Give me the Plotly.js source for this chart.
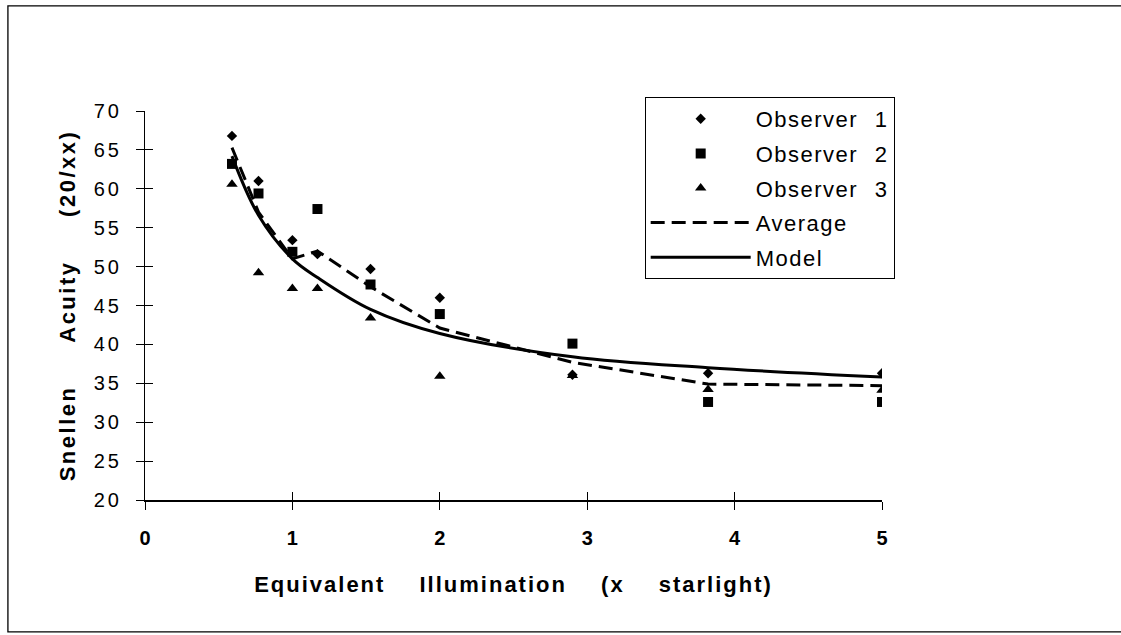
<!DOCTYPE html>
<html>
<head>
<meta charset="utf-8">
<script src="https://cdn.plot.ly/plotly-3.0.1.min.js"></script>
<style>
  html, body { margin: 0; padding: 0; background: #fff; }
  #chart { width: 1121px; height: 635px; }
  .ytick text { letter-spacing: 3px; }
  text.xtitle { word-spacing: 26px; letter-spacing: 2px; }
  text.ytitle { word-spacing: 35px; letter-spacing: 2.5px; }
  text.legendtext { word-spacing: 9px; letter-spacing: 1.5px; }
</style>
</head>
<body>
<div id="chart"></div>
<script>
// ---- data ----
const illumination = [0.59, 0.77, 1.0, 1.17, 1.53, 2.0, 2.9, 3.82, 5.0];
const observer1 = [66.8, 61.0, 53.4, 51.6, 49.7, 46.0, 36.1, 36.3, 36.3];
const observer2 = [63.2, 59.4, 51.9, 57.4, 47.7, 43.9, 40.1, 32.6, 32.6];
const observer3 = [60.6, 49.2, 47.2, 47.2, 43.4, 35.9, 36.0, 34.2, 34.1];
const average   = [65.3, 57.0, 51.0, 52.0, 47.4, 42.1, 37.7, 34.9, 34.7];
const model     = [64.2, 56.6, 51.0, 48.6, 44.5, 41.4, 38.4, 37.0, 35.8];

const xTickVals = [0, 1, 2, 3, 4, 5];
const xTickText = ['0', '1', '2', '3', '4', '5'];
const yTickVals = [20, 25, 30, 35, 40, 45, 50, 55, 60, 65, 70];
const yTickText = ['20', '25', '30', '35', '40', '45', '50', '55', '60', '65', '70'];

const seriesNames = ['Observer\u00A01', 'Observer\u00A02', 'Observer\u00A03', 'Average', 'Model'];

const sans = 'Liberation Sans, Arial, Helvetica, sans-serif';

const traces = [
  { x: illumination, y: observer1, name: seriesNames[0], mode: 'markers', legendgroup: 'g1',
    marker: { symbol: 'diamond', size: 8, color: '#000' } },
  { x: illumination, y: observer2, name: seriesNames[1], mode: 'markers', legendgroup: 'g2',
    marker: { symbol: 'square', size: 10, color: '#000' } },
  { x: illumination, y: observer3, name: seriesNames[2], mode: 'markers', legendgroup: 'g3',
    marker: { symbol: 'triangle-up', size: 10, color: '#000' } },
  { x: illumination, y: average, name: seriesNames[3], mode: 'lines', legendgroup: 'g4',
    line: { color: '#000', width: 3, dash: '14px,7px' } },
  { x: illumination, y: model, name: seriesNames[4], mode: 'lines', legendgroup: 'g5',
    line: { color: '#000', width: 3, shape: 'spline', smoothing: 1 } },
  { x: [], y: [], xaxis: 'x2', yaxis: 'y2', showlegend: false, mode: 'markers', hoverinfo: 'skip' }
];

const layout = {
  width: 1121, height: 635,
  margin: { l: 145, r: 239, t: 111, b: 135, pad: 0 },
  paper_bgcolor: '#fff', plot_bgcolor: '#fff',
  showlegend: true,
  font: { family: sans, color: '#000', size: 20 },
  xaxis: {
    range: [0, 5], tickvals: xTickVals, ticktext: xTickText,
    ticks: 'outside', ticklen: 8, tickwidth: 1, tickcolor: '#000',
    showline: true, linewidth: 2, linecolor: '#000',
    showgrid: false, zeroline: false, fixedrange: true,
    ticklabelstandoff: 11,
    tickfont: { family: sans, size: 20, weight: 'bold', color: '#000' },
    title: { text: 'Equivalent Illumination (x starlight)', standoff: 29,
             font: { family: sans, size: 22, weight: 'bold', color: '#000' } }
  },
  yaxis: {
    range: [20, 70], tickvals: yTickVals, ticktext: yTickText,
    ticks: 'outside', ticklen: 8, tickwidth: 1, tickcolor: '#000',
    showline: true, linewidth: 1, linecolor: '#000',
    showgrid: false, zeroline: false, fixedrange: true,
    ticklabelstandoff: 10,
    tickfont: { family: sans, size: 20, color: '#000' },
    title: { text: 'Snellen Acuity (20/xx)', standoff: 12,
             font: { family: sans, size: 22, weight: 'bold', color: '#000' } }
  },
  xaxis2: {
    overlaying: 'x', anchor: 'y2', side: 'bottom', range: [0, 5], tickvals: xTickVals,
    ticks: 'inside', ticklen: 8, tickwidth: 1, tickcolor: '#000',
    showticklabels: false, showline: false, showgrid: false, zeroline: false, fixedrange: true
  },
  yaxis2: {
    overlaying: 'y', anchor: 'x2', side: 'left', range: [20, 70], tickvals: yTickVals,
    ticks: 'inside', ticklen: 8, tickwidth: 1, tickcolor: '#000',
    showticklabels: false, showline: false, showgrid: false, zeroline: false, fixedrange: true
  },
  legend: {
    x: 0.678, y: 1.036, xanchor: 'left', yanchor: 'top',
    bgcolor: '#fff', bordercolor: '#000', borderwidth: 1,
    font: { family: sans, size: 22, color: '#000' },
    itemwidth: 100, traceorder: 'grouped', tracegroupgap: 3,
    itemclick: false, itemdoubleclick: false
  },
  shapes: [
    { type: 'rect', xref: 'paper', yref: 'paper',
      x0: -0.186, x1: 1.6, y0: -0.339, y1: 1.270,
      line: { color: '#000', width: 1.3 }, fillcolor: 'rgba(0,0,0,0)' }
  ]
};

Plotly.newPlot('chart', traces, layout, { displayModeBar: false, staticPlot: true });
</script>
</body>
</html>
